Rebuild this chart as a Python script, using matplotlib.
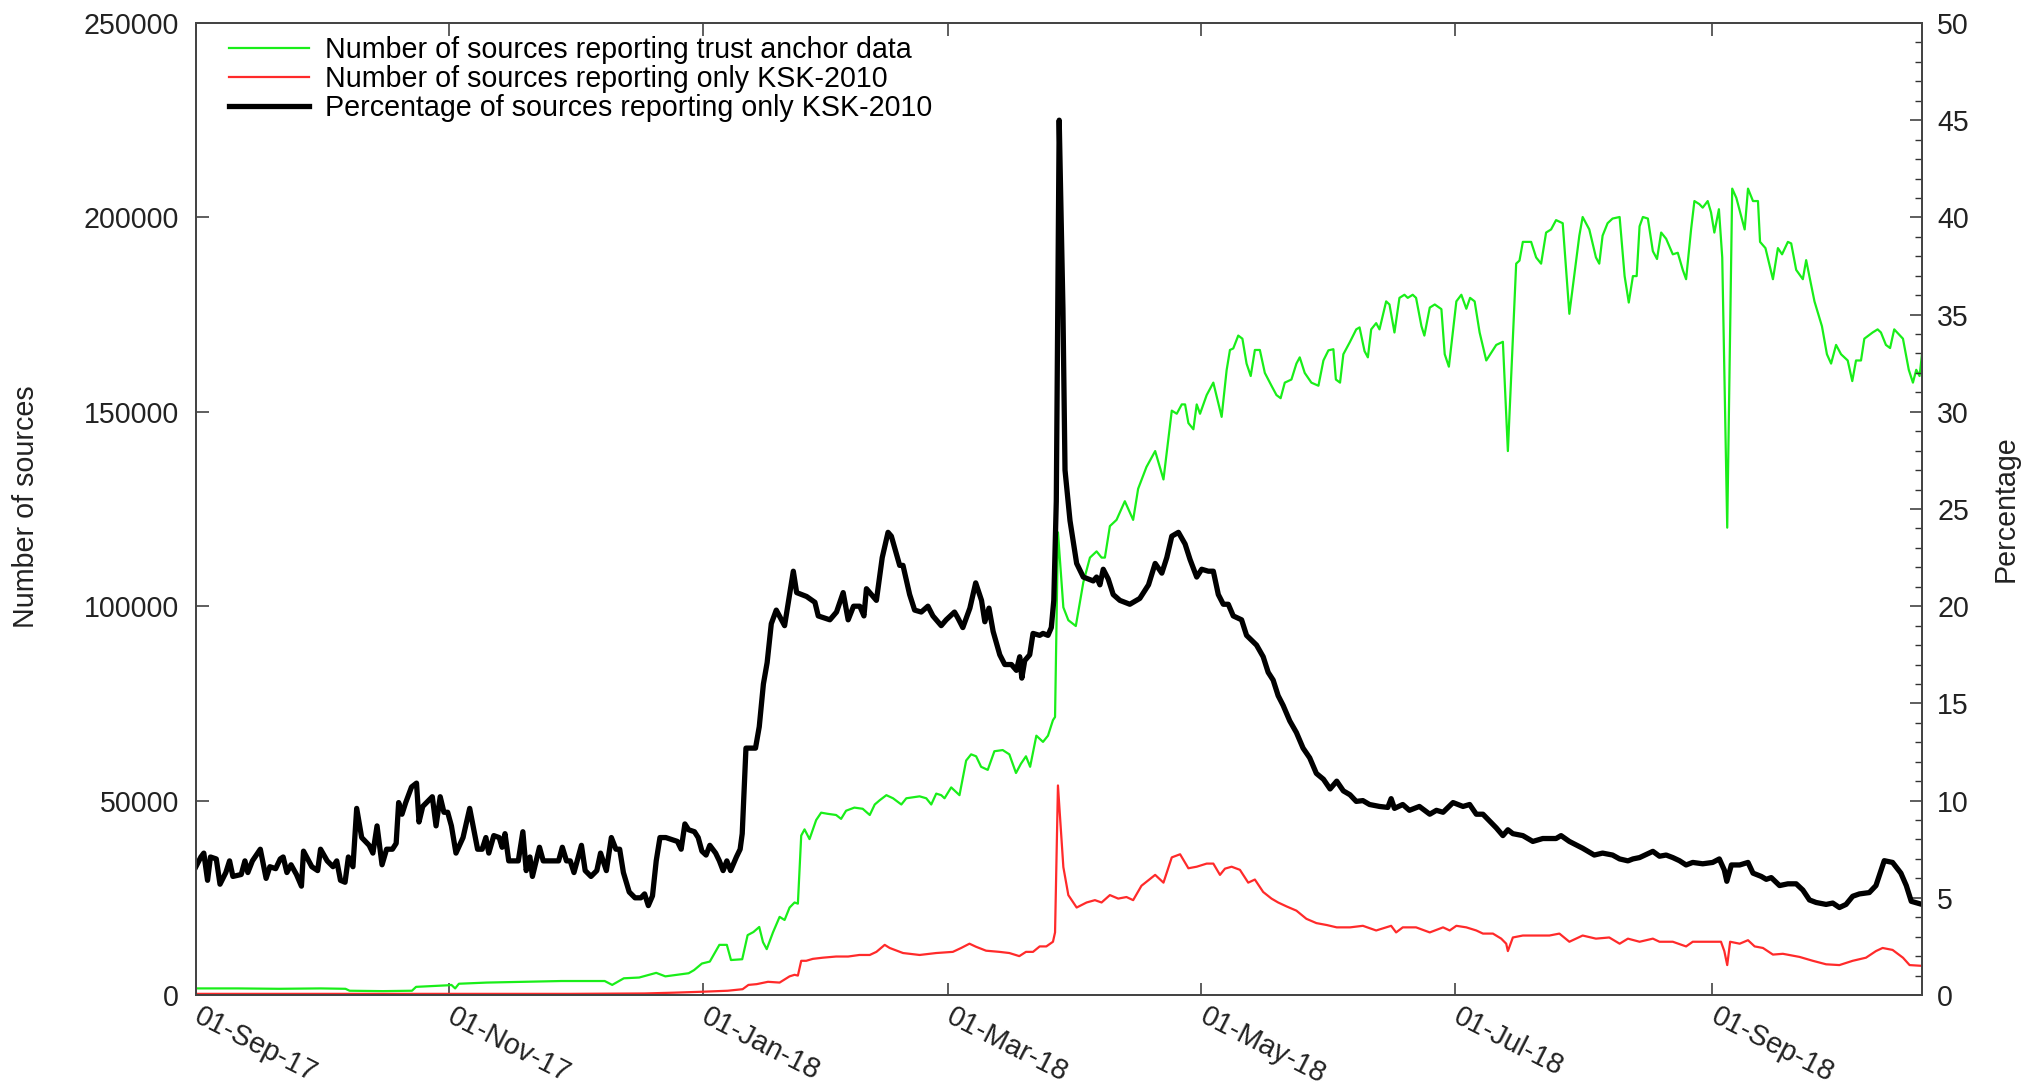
import datetime as dt
import matplotlib
matplotlib.use("Agg")
import matplotlib.pyplot as plt
import matplotlib.dates as mdates
import matplotlib.transforms as mtransforms
from matplotlib.ticker import MultipleLocator, FixedLocator
import numpy as np

plt.rcParams['font.family'] = ['Liberation Sans', 'DejaVu Sans']

start = dt.datetime(2017, 9, 1)

# days since 01-Sep-17 and number of sources reporting trust anchor data
ta_days = [0, 10, 20, 30, 36, 37, 45, 52, 53, 60.6, 61.5, 62.4, 63.3, 70, 79, 88, 98.4, 100.2,
           103, 106.7, 110.8, 113, 118.6, 119.9, 121.8, 123.7, 126, 127.8, 128.8, 131.5, 132.8,
           134.2, 135.6, 136.5, 137.4, 138.9, 140.5, 141.7, 142.9, 144.1, 144.9, 145.7, 146.5,
           147.7, 149.3, 150.5, 152.1, 154.1, 155.3, 156.5, 158.5, 160.5, 162.2, 163.4, 164.6,
           166.2, 167.8, 169.8, 171, 174.2, 175.8, 177, 178.2, 179.4, 180.2, 181.8, 183.8, 185.4,
           186.6, 187.8, 189, 190.6, 192.2, 194.2, 195.8, 197.4, 198.6, 199.8, 200.8, 202.3,
           203.9, 205.1, 206.3, 206.8, 207.5, 208.8, 210, 211.8, 213.6, 215.2, 216.8, 218,
           218.8, 220, 221.6, 223.6, 225.6, 226.8, 228.8, 230.9, 232.9, 234.9, 236.1, 237.3,
           238.1, 238.9, 240.1, 240.9, 241.7, 243.3, 244.9, 246.9, 248.1, 248.9, 249.7, 250.9,
           251.9, 252.9, 253.9, 254.9, 256.1, 257.3, 258.9, 260.1, 261.1, 262.1, 263.7, 264.9,
           265.7, 266.9, 268.5, 270.2, 271.4, 272.6, 273.8, 274.4, 275.4, 276.2, 277.8, 279.3,
           280.1, 281.3, 282.1, 282.9, 284.1, 284.9, 286.5, 287.3, 288.5, 289.7, 290.9, 291.7,
           292.9, 293.7, 295, 295.7, 297, 298.2, 299.8, 300.6, 301.6, 303.4, 304.6, 305.8,
           306.7, 307.8, 309, 310.6, 313, 314.6, 315.8, 317.8, 318.6, 319.4, 321.4, 322.6,
           323.8, 325, 326.2, 327.4, 329, 330.6, 333, 333.8, 335.4, 337, 337.8, 338.6, 339.8,
           341, 342.7, 343.9, 344.9, 345.9, 346.8, 347.5, 348.3, 349.5, 350.7, 351.7, 352.7,
           353.9, 355.5, 356.7, 357.9, 358.7, 359.9, 360.7, 361.9, 362.7, 363.9, 364.7, 365.5,
           366.6, 367.4, 368.6, 369.8, 370.8, 372.8, 373.6, 374.8, 376, 376.5, 377.8, 379.6,
           380.8, 381.8, 383.2, 384, 385.2, 386.8, 387.6, 389.6, 391.4, 392.6, 393.6, 394.8,
           396, 397.6, 398.7, 399.6, 400.8, 401.6, 403.6, 404.8, 405.6, 406.8, 407.8, 408.8,
           410.9, 412.3, 413.3, 414.1, 414.9, 415.5]
ta_vals = [1700, 1700, 1600, 1700, 1600, 1100, 1000, 1100, 2100, 2500, 2600, 1700, 2900, 3200,
           3400, 3600, 3600, 2600, 4300, 4500, 5700, 4800, 5600, 6400, 8100, 8600, 12900, 12900,
           9000, 9200, 15400, 16200, 17500, 13600, 11800, 16100, 20100, 19300, 22500, 23800,
           23500, 41000, 42600, 40100, 45000, 46900, 46600, 46300, 45300, 47400, 48200, 47900,
           46300, 49000, 50100, 51400, 50600, 49000, 50600, 51100, 50600, 49000, 51800, 51400,
           50600, 53400, 51400, 60300, 61900, 61400, 58700, 57900, 62700, 63000, 61900, 57100,
           59500, 61400, 58700, 66700, 65100, 66700, 70700, 71500, 119000, 99700, 96400, 94900,
           106100, 112500, 114100, 112500, 112500, 120600, 122200, 127000, 122200, 130200,
           135800, 139900, 132600, 150300, 149500, 151900, 151900, 147100, 145500, 151900,
           149500, 154300, 157500, 148700, 160700, 165900, 166300, 169600, 168800, 162400,
           159200, 165900, 165900, 160000, 156700, 154300, 153500, 157500, 158300, 162400,
           164000, 160000, 157500, 156700, 163200, 165800, 166100, 158300, 157500, 164800,
           168000, 171200, 171700, 165600, 164000, 171200, 172800, 171200, 178400, 177600,
           170400, 179300, 180100, 179300, 180100, 179300, 172000, 169600, 176800, 177600,
           176400, 164800, 161600, 178400, 180100, 176500, 179300, 178400, 170400, 163200,
           167200, 168000, 139900, 188100, 188900, 193700, 193700, 189700, 188100, 196100,
           196900, 199300, 198500, 175200, 195300, 200100, 196900, 189700, 188100, 195300,
           198500, 199700, 200100, 184900, 178100, 184900, 184900, 197700, 200100, 199700,
           191300, 189300, 196100, 194500, 190500, 190900, 186500, 184100, 196900, 204200,
           203400, 202500, 204200, 201300, 196100, 202100, 189700, 120200, 207400, 205000,
           196900, 207400, 204200, 204200, 193700, 192100, 184100, 192100, 190500, 193700,
           193300, 186500, 184100, 189000, 178400, 172000, 164800, 162400, 167200, 164800,
           163200, 157900, 163200, 163200, 168800, 170400, 171200, 170400, 167200, 166400,
           171200, 168800, 160800, 157500, 160800, 159200, 165000]

# number of sources reporting only KSK-2010
old_days = [0, 30, 60, 90, 100, 108, 115, 122, 128, 131.6, 133, 135, 137.7, 140.5, 142.9, 144.1,
            144.9, 145.7, 146.9, 148.5, 150.9, 154.1, 157, 159.7, 162.2, 163.8, 165.8, 167,
            170.2, 174.2, 178.2, 182.2, 184.2, 186.2, 187.8, 190.2, 193.4, 195.8, 198.2, 199.8,
            201.5, 203.1, 204.7, 206.3, 206.8, 207.5, 208.8, 210, 212, 214.4, 216.4, 218, 220,
            222, 224, 225.6, 227.6, 230.9, 232.9, 234.9, 236.9, 238.9, 240.9, 243.3, 244.9,
            246.5, 247.7, 249.3, 251.3, 253.3, 254.9, 256.9, 258.9, 260.5, 262.5, 264.9, 267.3,
            269.7, 272.2, 274.6, 277.8, 280.9, 284.1, 287.7, 288.9, 290.5, 293.7, 297, 300.2,
            301.8, 303.4, 305.8, 308.2, 309.8, 312.2, 314.2, 315.4, 315.8, 317, 319.4, 322.6,
            325.8, 328.2, 330.6, 333.8, 337, 340.2, 342.7, 344.7, 347.5, 350.7, 352.3, 355.5,
            358.7, 360.3, 363.5, 367.1, 367.9, 368.6, 369.3, 371.6, 373.6, 375.2, 377.2, 379.6,
            382, 386, 389.2, 392.4, 395.6, 398.8, 402, 404.4, 406, 408.4, 410.9, 412.5, 415.5]
old_vals = [300, 300, 300, 300, 350, 400, 600, 850, 1100, 1500, 2600, 2800, 3400, 3200, 4800,
            5200, 5000, 8800, 8800, 9300, 9600, 9900, 9900, 10300, 10300, 11100, 12900, 12100,
            10800, 10300, 10800, 11100, 12100, 13200, 12400, 11400, 11100, 10800, 10000, 11100,
            11100, 12500, 12500, 13700, 16100, 53900, 32900, 25700, 22500, 23800, 24400, 23800,
            25700, 24800, 25200, 24400, 28100, 30900, 28900, 35400, 36200, 32600, 33000, 33800,
            33800, 30900, 32500, 33000, 32200, 28900, 29700, 26500, 24800, 23800, 22800, 21700,
            19600, 18500, 18000, 17400, 17400, 17800, 16600, 17800, 16100, 17400, 17400, 16100,
            17400, 16600, 17800, 17400, 16600, 15800, 15800, 14500, 13200, 11300, 14800, 15300,
            15300, 15300, 15800, 13700, 15300, 14500, 14800, 13200, 14500, 13700, 14500, 13700,
            13700, 12500, 13700, 13700, 13700, 11300, 7700, 13700, 13200, 14100, 12500, 12100,
            10400, 10600, 9800, 8800, 7900, 7700, 8800, 9600, 11300, 12100, 11600, 9600, 7700,
            7500]

# percentage of sources reporting only KSK-2010
pct_days = [0, 1.2, 1.9, 2.8, 3.5, 4.9, 5.8, 7.2, 8.1, 8.9, 10.9, 11.8, 12.5, 13.6, 15.5, 16.9,
            17.8, 19.2, 20.3, 21.0, 21.9, 22.9, 24.2, 25.4, 25.9, 27.9, 29.3, 30.0, 31.6, 33.0,
            33.9, 34.8, 35.9, 36.7, 37.8, 38.7, 39.9, 41.7, 42.6, 43.6, 44.8, 45.9, 47.3, 48.2,
            48.8, 49.6, 50.5, 51.9, 53.1, 53.7, 54.6, 56.9, 57.8, 58.8, 59.7, 60.6, 61.5, 62.6,
            64.3, 65.9, 67.8, 68.9, 69.8, 70.5, 71.7, 73.0, 73.7, 74.4, 75.3, 76.3, 77.6, 78.7,
            79.5, 80.4, 81.0, 82.7, 83.6, 85.0, 87.3, 88.2, 89.2, 90.1, 91.0, 92.8, 93.7, 95.1,
            96.5, 97.4, 98.8, 100.0, 101.1, 102.0, 102.9, 104.3, 105.7, 107.1, 108.0, 108.9,
            109.9, 110.8, 111.7, 113.1, 114.5, 115.9, 116.8, 117.7, 118.6, 120.0, 120.9, 121.8,
            122.8, 123.7, 125.1, 126.0, 126.9, 127.8, 128.7, 130.1, 131.0, 131.5, 132.4, 134.7,
            135.6, 136.6, 137.5, 138.5, 139.7, 141.7, 143.8, 144.6, 147.0, 149.0, 149.8, 152.6,
            154.2, 155.8, 157.0, 158.3, 159.8, 160.8, 161.4, 163.8, 165.2, 166.6, 167.4, 169.4,
            170.2, 171.8, 173.0, 174.6, 176.2, 177.4, 179.4, 180.6, 182.6, 183.4, 184.6, 186.3,
            187.7, 189.1, 189.9, 190.9, 191.9, 193.5, 194.7, 196.3, 197.5, 198.3, 198.8, 199.5,
            200.7, 201.5, 203.1, 203.9, 205.1, 205.9, 206.5, 207.1, 207.8, 208.7, 209.2, 210.4,
            212.0, 213.6, 216.0, 216.8, 217.6, 218.4, 219.6, 220.8, 222.4, 224.8, 227.2, 229.3,
            230.9, 232.5, 233.7, 234.9, 236.5, 238.1, 239.3, 240.9, 242.1, 243.7, 244.9, 246.1,
            247.3, 248.5, 249.7, 251.7, 252.9, 255.3, 256.9, 258.1, 259.3, 260.5, 261.7, 263.3,
            264.9, 266.5, 268.1, 269.7, 271.4, 273.0, 274.6, 276.2, 277.8, 279.3, 280.9, 282.5,
            284.9, 286.9, 287.7, 288.5, 290.5, 292.1, 294.5, 297.0, 298.6, 300.2, 302.6, 305.0,
            306.6, 308.2, 309.8, 311.4, 313.0, 314.6, 315.8, 317.0, 319.4, 321.8, 324.2, 327.4,
            328.6, 330.6, 333.8, 336.6, 338.6, 341.0, 342.7, 344.7, 345.9, 347.5, 349.1, 350.7,
            352.3, 353.9, 355.5, 357.1, 358.7, 360.3, 362.7, 365.1, 366.7, 367.9, 368.5, 369.6,
            371.6, 373.6, 374.8, 376.8, 378.0, 379.2, 381.2, 383.2, 385.2, 386.8, 388.4, 390.0,
            392.4, 394.0, 395.6, 397.2, 398.8, 400.4, 402.8, 404.4, 406.4, 408.4, 410.4, 411.7,
            412.9, 415.5]
pct_vals = [6.6, 7.1, 7.3, 5.9, 7.1, 7.0, 5.7, 6.3, 6.9, 6.1, 6.2, 6.9, 6.3, 6.9, 7.5, 6.0, 6.6,
            6.5, 7.0, 7.1, 6.3, 6.7, 6.2, 5.6, 7.4, 6.6, 6.4, 7.5, 6.9, 6.6, 6.9, 5.9, 5.8, 7.1,
            6.6, 9.6, 8.1, 7.7, 7.3, 8.7, 6.7, 7.5, 7.5, 7.8, 9.9, 9.3, 9.9, 10.7, 10.9, 8.9,
            9.7, 10.2, 8.7, 10.2, 9.4, 9.4, 8.7, 7.3, 8.1, 9.6, 7.5, 7.5, 8.1, 7.3, 8.2, 8.1,
            7.6, 8.3, 6.9, 6.9, 6.9, 8.4, 6.4, 7.1, 6.1, 7.6, 6.9, 6.9, 6.9, 7.6, 6.9, 6.9, 6.3,
            7.7, 6.4, 6.1, 6.4, 7.3, 6.4, 8.1, 7.5, 7.5, 6.3, 5.3, 5.0, 5.0, 5.2, 4.6, 5.1, 6.9,
            8.1, 8.1, 8.0, 7.9, 7.5, 8.8, 8.5, 8.4, 8.1, 7.4, 7.2, 7.7, 7.3, 6.9, 6.4, 6.9, 6.4,
            7.1, 7.5, 8.3, 12.7, 12.7, 13.8, 16.0, 17.1, 19.1, 19.8, 19.0, 21.8, 20.7, 20.5,
            20.2, 19.5, 19.3, 19.7, 20.7, 19.3, 20.0, 20.0, 19.5, 20.9, 20.3, 22.5, 23.8, 23.6,
            22.1, 22.1, 20.6, 19.8, 19.7, 20.0, 19.5, 19.0, 19.3, 19.7, 19.4, 18.9, 19.9, 21.2,
            20.3, 19.2, 19.9, 18.7, 17.5, 17.0, 17.0, 16.7, 17.4, 16.3, 17.2, 17.5, 18.6, 18.5,
            18.6, 18.5, 18.9, 20.3, 25.4, 45.0, 35.3, 27.0, 24.4, 22.2, 21.5, 21.3, 21.5, 21.1,
            21.9, 21.4, 20.6, 20.3, 20.1, 20.4, 21.1, 22.2, 21.7, 22.5, 23.6, 23.8, 23.2, 22.4,
            21.5, 21.9, 21.8, 21.8, 20.6, 20.1, 20.1, 19.5, 19.3, 18.5, 18.0, 17.4, 16.6, 16.2,
            15.4, 14.9, 14.1, 13.5, 12.7, 12.2, 11.4, 11.1, 10.6, 11.0, 10.5, 10.3, 9.96, 10.0,
            9.8, 9.7, 9.65, 10.1, 9.6, 9.8, 9.5, 9.7, 9.3, 9.5, 9.4, 9.9, 9.7, 9.8, 9.3, 9.3,
            8.95, 8.6, 8.2, 8.5, 8.3, 8.2, 7.9, 8.05, 8.05, 8.2, 7.9, 7.55, 7.2, 7.3, 7.2, 7.0,
            6.9, 7.0, 7.07, 7.23, 7.39, 7.14, 7.2, 7.07, 6.91, 6.69, 6.82, 6.75, 6.82, 7.0, 6.43,
            5.85, 6.69, 6.69, 6.82, 6.27, 6.1, 5.95, 6.04, 5.63, 5.72, 5.72, 5.4, 4.89, 4.76,
            4.66, 4.73, 4.5, 4.66, 5.08, 5.2, 5.27, 5.63, 6.91, 6.82, 6.27, 5.63, 4.82, 4.66]

month_ticks = [dt.datetime(2017, 9, 1), dt.datetime(2017, 11, 1), dt.datetime(2018, 1, 1),
               dt.datetime(2018, 3, 1), dt.datetime(2018, 5, 1), dt.datetime(2018, 7, 1),
               dt.datetime(2018, 9, 1)]

FS = 20.6

t0 = mdates.date2num(start)
ta_x = t0 + np.array(ta_days)
old_x = t0 + np.array(old_days)
pct_x = t0 + np.array(pct_days)

fig = plt.figure(figsize=(20.26, 10.89), dpi=100)
ax = fig.add_axes([0.0967, 0.0863, 0.852, 0.8926])
ax2 = ax.twinx()

l1, = ax.plot(ta_x, ta_vals, color='#19ee19', lw=1.6, label='Number of sources reporting trust anchor data')
l2, = ax.plot(old_x, old_vals, color='#ff2a2a', lw=1.6, label='Number of sources reporting only KSK-2010')
l3, = ax2.plot(pct_x, pct_vals, color='black', lw=3.8, label='Percentage of sources reporting only KSK-2010')

ax.set_xlim(t0, t0 + 415.5)
ax.set_ylim(0, 250000)
ax2.set_ylim(0, 50)

ax.xaxis.set_major_locator(FixedLocator(mdates.date2num(month_ticks)))
ax.xaxis.set_major_formatter(mdates.DateFormatter('%d-%b-%y'))
ax.yaxis.set_major_locator(MultipleLocator(50000))
ax2.yaxis.set_major_locator(MultipleLocator(5))
ax2.yaxis.set_minor_locator(MultipleLocator(1))

ax.tick_params(axis='both', direction='in', length=9, width=1.1, labelsize=FS,
               colors='#333333', labelcolor='#222222')
ax.tick_params(axis='x', top=True, pad=5)
ax.tick_params(axis='y', right=False, pad=12)
ax2.tick_params(axis='y', which='major', direction='in', length=9, width=1.1,
                labelsize=FS, colors='#333333', labelcolor='#222222', pad=11)
ax2.tick_params(axis='y', which='minor', direction='in', length=5, width=1.0, colors='#333333')

# slanted date labels hanging off each tick
shift = mtransforms.ScaledTranslation(7 / 100, 0, fig.dpi_scale_trans)
for lab in ax.get_xticklabels():
    lab.set_rotation(-27)
    lab.set_ha('left')
    lab.set_va('top')
    lab.set_rotation_mode('anchor')
    lab.set_transform(lab.get_transform() + shift)

for a in (ax, ax2):
    for s in a.spines.values():
        s.set_color('#444444')
        s.set_linewidth(1.3)

fig.text(0.0128, 0.535, 'Number of sources', rotation=90, ha='center', va='center',
         fontsize=FS, color='#222222')
fig.text(0.9897, 0.533, 'Percentage', rotation=90, ha='center', va='center',
         fontsize=FS, color='#222222')

ax2.legend(handles=[l1, l2, l3], loc='upper left', bbox_to_anchor=(0.014, 0.995),
           borderaxespad=0, borderpad=0.3, frameon=False, fontsize=FS,
           handlelength=2.8, handletextpad=0.55, labelspacing=0.02)

fig.savefig('out.png', dpi=100)
